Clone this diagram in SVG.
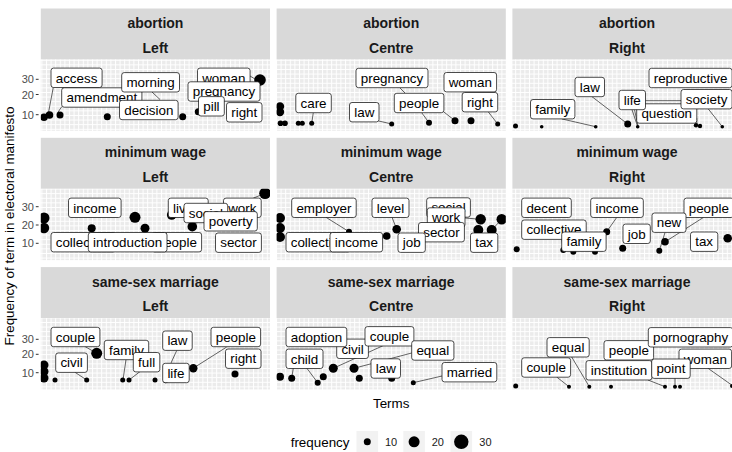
<svg xmlns="http://www.w3.org/2000/svg" width="732" height="452" viewBox="0 0 732 452">
<style>
.strip{fill:#D9D9D9}
.st{font-family:"Liberation Sans",Arial,sans-serif;font-size:14px;font-weight:bold;fill:#1A1A1A;text-anchor:middle}
.bg{fill:url(#grid)}
.pt{fill:#000}
.seg{stroke:#000;stroke-width:0.6;fill:none}
.lb rect{fill:#fff;stroke:#000;stroke-width:0.7}
.lb text{font-family:"Liberation Sans",Arial,sans-serif;font-size:13.4px;fill:#000;text-anchor:middle}
.tk{font-family:"Liberation Sans",Arial,sans-serif;font-size:11px;fill:#4D4D4D;text-anchor:end}
.tm{stroke:#333;stroke-width:1}
.ax{font-family:"Liberation Sans",Arial,sans-serif;font-size:13.4px;fill:#000}
.key{fill:#F2F2F2}
.lt{font-family:"Liberation Sans",Arial,sans-serif;font-size:11px;fill:#1A1A1A}
</style>
<defs>
<pattern id="grid" width="4.6" height="4.6" patternUnits="userSpaceOnUse">
<rect width="4.6" height="4.6" fill="#EBEBEB"/>
<path d="M0 0.5H4.6M0.5 0V4.6" stroke="#fff" stroke-width="1"/>
</pattern>
<clipPath id="c11"><rect x="40.8" y="59.5" width="229.2" height="71.3"/></clipPath>
<clipPath id="c12"><rect x="276.6" y="59.5" width="229.2" height="71.3"/></clipPath>
<clipPath id="c13"><rect x="512.4" y="59.5" width="229.2" height="71.3"/></clipPath>
<clipPath id="c21"><rect x="40.8" y="188.8" width="229.2" height="71.3"/></clipPath>
<clipPath id="c22"><rect x="276.6" y="188.8" width="229.2" height="71.3"/></clipPath>
<clipPath id="c23"><rect x="512.4" y="188.8" width="229.2" height="71.3"/></clipPath>
<clipPath id="c31"><rect x="40.8" y="318.1" width="229.2" height="71.3"/></clipPath>
<clipPath id="c32"><rect x="276.6" y="318.1" width="229.2" height="71.3"/></clipPath>
<clipPath id="c33"><rect x="512.4" y="318.1" width="229.2" height="71.3"/></clipPath>
</defs>
<rect width="732" height="452" fill="#fff"/>

<!-- strips -->
<g id="strips">
<rect class="strip" x="40.8" y="8.5" width="229.2" height="51"/>
<rect class="strip" x="276.6" y="8.5" width="229.2" height="51"/>
<rect class="strip" x="512.4" y="8.5" width="229.2" height="51"/>
<rect class="strip" x="40.8" y="137.8" width="229.2" height="51"/>
<rect class="strip" x="276.6" y="137.8" width="229.2" height="51"/>
<rect class="strip" x="512.4" y="137.8" width="229.2" height="51"/>
<rect class="strip" x="40.8" y="267.1" width="229.2" height="51"/>
<rect class="strip" x="276.6" y="267.1" width="229.2" height="51"/>
<rect class="strip" x="512.4" y="267.1" width="229.2" height="51"/>
<text class="st" x="155.4" y="28">abortion</text><text class="st" x="155.4" y="52.5">Left</text>
<text class="st" x="391.2" y="28">abortion</text><text class="st" x="391.2" y="52.5">Centre</text>
<text class="st" x="627" y="28">abortion</text><text class="st" x="627" y="52.5">Right</text>
<text class="st" x="155.4" y="157.3">minimum wage</text><text class="st" x="155.4" y="181.8">Left</text>
<text class="st" x="391.2" y="157.3">minimum wage</text><text class="st" x="391.2" y="181.8">Centre</text>
<text class="st" x="627" y="157.3">minimum wage</text><text class="st" x="627" y="181.8">Right</text>
<text class="st" x="155.4" y="286.6">same-sex marriage</text><text class="st" x="155.4" y="311.1">Left</text>
<text class="st" x="391.2" y="286.6">same-sex marriage</text><text class="st" x="391.2" y="311.1">Centre</text>
<text class="st" x="627" y="286.6">same-sex marriage</text><text class="st" x="627" y="311.1">Right</text>
</g>

<!-- panel backgrounds -->
<g id="panels">
<rect class="bg" x="40.8" y="59.5" width="229.2" height="71.3"/>
<rect class="bg" x="276.6" y="59.5" width="229.2" height="71.3"/>
<rect class="bg" x="512.4" y="59.5" width="229.2" height="71.3"/>
<rect class="bg" x="40.8" y="188.8" width="229.2" height="71.3"/>
<rect class="bg" x="276.6" y="188.8" width="229.2" height="71.3"/>
<rect class="bg" x="512.4" y="188.8" width="229.2" height="71.3"/>
<rect class="bg" x="40.8" y="318.1" width="229.2" height="71.3"/>
<rect class="bg" x="276.6" y="318.1" width="229.2" height="71.3"/>
<rect class="bg" x="512.4" y="318.1" width="229.2" height="71.3"/>
</g>

<!-- y axes -->
<g id="yaxis">
<text class="tk" x="34" y="83.3">30</text><line class="tm" x1="35.8" y1="79.3" x2="38.6" y2="79.3"/>
<text class="tk" x="34" y="98.5">20</text><line class="tm" x1="35.8" y1="94.5" x2="38.6" y2="94.5"/>
<text class="tk" x="34" y="118.7">10</text><line class="tm" x1="35.8" y1="114.7" x2="38.6" y2="114.7"/>
<text class="tk" x="34" y="210.7">30</text><line class="tm" x1="35.8" y1="206.7" x2="38.6" y2="206.7"/>
<text class="tk" x="34" y="229">20</text><line class="tm" x1="35.8" y1="225" x2="38.6" y2="225"/>
<text class="tk" x="34" y="247.3">10</text><line class="tm" x1="35.8" y1="243.3" x2="38.6" y2="243.3"/>
<text class="tk" x="34" y="343.3">30</text><line class="tm" x1="35.8" y1="339.3" x2="38.6" y2="339.3"/>
<text class="tk" x="34" y="358.3">20</text><line class="tm" x1="35.8" y1="354.3" x2="38.6" y2="354.3"/>
<text class="tk" x="34" y="376.7">10</text><line class="tm" x1="35.8" y1="372.7" x2="38.6" y2="372.7"/>
</g>

<!-- Panel 1: abortion Left -->
<g id="p-abortion-left" clip-path="url(#c11)">
<g class="pts">
<circle class="pt" cx="44" cy="117.3" r="3.8"/><circle class="pt" cx="49.5" cy="115" r="3.8"/>
<circle class="pt" cx="60" cy="115" r="3.5"/><circle class="pt" cx="107.3" cy="116.7" r="3.5"/>
<circle class="pt" cx="182.7" cy="116.7" r="3.5"/><circle class="pt" cx="198.3" cy="111.7" r="3.5"/>
<circle class="pt" cx="235" cy="120" r="2"/><circle class="pt" cx="260" cy="80" r="5.8"/>
</g>
<g id="p1-connectors">
<path class="seg" d="M53.3 87.3L48.5 112.5M61.7 106.7L57.5 113M152 92L160 99.5M250 76L255 79"/>
</g>
<g id="p1-access" class="lb"><rect x="51" y="68.1" width="51.1" height="19.4" rx="2.5"/><text x="76.55" y="82.5">access</text></g>
<g id="p1-amendment" class="lb"><rect x="61.7" y="87.8" width="80.2" height="19.4" rx="2.5"/><text x="101.8" y="102.2">amendment</text></g>
<g id="p1-morning" class="lb"><rect x="121.7" y="72.6" width="57.8" height="19.4" rx="2.5"/><text x="150.6" y="87">morning</text></g>
<g id="p1-decision" class="lb"><rect x="119.5" y="100.3" width="58.6" height="19.4" rx="2.5"/><text x="148.8" y="114.7">decision</text></g>
<g id="p1-woman" class="lb"><rect x="197.5" y="68.1" width="52.6" height="19.4" rx="2.5"/><text x="223.8" y="82.5">woman</text></g>
<g id="p1-pregnancy" class="lb"><rect x="188" y="81.8" width="72" height="19.4" rx="2.5"/><text x="224" y="96.2">pregnancy</text></g>
<g id="p1-pill" class="lb"><rect x="198.5" y="96.6" width="25.8" height="19.4" rx="2.5"/><text x="211.4" y="111">pill</text></g>
<g id="p1-right" class="lb"><rect x="226.5" y="102.6" width="35.5" height="19.4" rx="2.5"/><text x="244.25" y="117">right</text></g>
</g>

<!-- Panel 2: abortion Centre -->
<g id="p-abortion-centre" clip-path="url(#c12)">
<g class="pts">
<circle class="pt" cx="280" cy="106.5" r="4.2"/><circle class="pt" cx="280" cy="112" r="4.2"/>
<circle class="pt" cx="280.5" cy="123.3" r="2.8"/><circle class="pt" cx="285" cy="123.3" r="2.8"/>
<circle class="pt" cx="298.3" cy="123.3" r="2.5"/><circle class="pt" cx="302.3" cy="123.3" r="2.5"/>
<circle class="pt" cx="311.7" cy="123.3" r="2.5"/><circle class="pt" cx="391.7" cy="124" r="2.5"/>
<circle class="pt" cx="429" cy="122.7" r="3"/><circle class="pt" cx="455" cy="120.7" r="3.5"/>
<circle class="pt" cx="471" cy="120.7" r="3.5"/><circle class="pt" cx="497.7" cy="124" r="2.5"/>
</g>
<g id="p2-connectors">
<path class="seg" d="M313.3 112.7L311.7 123.3M378.8 121L391.7 124M421.7 112.7L429 122.7M443.9 112L455 120.7M488.3 111.9L497.7 124M400 88L405 93"/>
</g>
<g id="p2-pregnancy" class="lb"><rect x="356" y="68.3" width="72" height="19.4" rx="2.5"/><text x="392" y="82.7">pregnancy</text></g>
<g id="p2-woman" class="lb"><rect x="444" y="72.5" width="52.6" height="19.4" rx="2.5"/><text x="470.3" y="86.9">woman</text></g>
<g id="p2-care" class="lb"><rect x="295.8" y="93.3" width="35.5" height="19.4" rx="2.5"/><text x="313.55" y="107.7">care</text></g>
<g id="p2-law" class="lb"><rect x="349.5" y="102.5" width="29.5" height="19.4" rx="2.5"/><text x="364.25" y="116.9">law</text></g>
<g id="p2-people" class="lb"><rect x="394.3" y="93.3" width="49.6" height="19.4" rx="2.5"/><text x="419.1" y="107.7">people</text></g>
<g id="p2-right" class="lb"><rect x="462.2" y="92.5" width="35.5" height="19.4" rx="2.5"/><text x="479.95" y="106.9">right</text></g>
</g>

<!-- Panel 3: abortion Right -->
<g id="p-abortion-right" clip-path="url(#c13)">
<g class="pts">
<circle class="pt" cx="515.5" cy="126" r="2.5"/><circle class="pt" cx="541.7" cy="126.7" r="1.8"/>
<circle class="pt" cx="595.7" cy="126.7" r="1.8"/><circle class="pt" cx="627.7" cy="124" r="3.5"/>
<circle class="pt" cx="637.7" cy="126.7" r="1.8"/><circle class="pt" cx="696" cy="125.3" r="2.2"/>
<circle class="pt" cx="700" cy="126" r="2.2"/><circle class="pt" cx="722.3" cy="126.7" r="1.8"/>
</g>
<g id="p3-connectors">
<path class="seg" d="M561.7 118.9L595.7 126.7M592 96.7L627.7 124M632 109.7L637.7 126.7M634.5 109.7L638 126M696.7 118L697 125M708 108.6L722.3 126.7M645.5 100.7H681"/>
</g>
<g id="p3-question" class="lb"><rect x="636.7" y="103.8" width="60.1" height="19.4" rx="2.5"/><text x="666.75" y="118.2">question</text></g>
<g id="p3-family" class="lb"><rect x="530.5" y="99.5" width="44.4" height="19.4" rx="2.5"/><text x="552.7" y="113.9">family</text></g>
<g id="p3-law" class="lb"><rect x="575" y="77.3" width="29.5" height="19.4" rx="2.5"/><text x="589.75" y="91.7">law</text></g>
<g id="p3-life" class="lb"><rect x="619" y="90.3" width="26.5" height="19.4" rx="2.5"/><text x="632.25" y="104.7">life</text></g>
<g id="p3-society" class="lb"><rect x="681" y="89.5" width="51.1" height="19.4" rx="2.5"/><text x="706.55" y="103.9">society</text></g>
<g id="p3-reproductive" class="lb"><rect x="649" y="68.3" width="83.1" height="19.4" rx="2.5"/><text x="690.55" y="82.7">reproductive</text></g>
</g>

<!-- Panel 4: minimum wage Left -->
<g id="p-minwage-left" clip-path="url(#c21)">
<g class="pts">
<circle class="pt" cx="44" cy="218" r="5.5"/><circle class="pt" cx="44" cy="228" r="5.2"/>
<circle class="pt" cx="91.7" cy="228.3" r="4"/><circle class="pt" cx="135" cy="217.3" r="5.5"/>
<circle class="pt" cx="145" cy="228.3" r="4.5"/><circle class="pt" cx="171.7" cy="215" r="4.8"/>
<circle class="pt" cx="192.3" cy="226.7" r="4.8"/><circle class="pt" cx="265" cy="193.3" r="5.8"/>
</g>
<g id="p4-connectors">
<path class="seg" d="M253 198.3L265 193.3"/>
</g>
<g id="p4-income" class="lb"><rect x="68.5" y="198.1" width="52.6" height="19.4" rx="2.5"/><text x="94.8" y="212.5">income</text></g>
<g id="p4-living" class="lb"><rect x="168.3" y="198.1" width="39.9" height="19.4" rx="2.5"/><text x="188.25" y="212.5">living</text></g>
<g id="p4-work" class="lb"><rect x="223.5" y="198.1" width="37.7" height="19.4" rx="2.5"/><text x="242.35" y="212.5">work</text></g>
<g id="p4-social" class="lb"><rect x="184" y="203.3" width="43.7" height="19.4" rx="2.5"/><text x="205.85" y="217.7">social</text></g>
<g id="p4-poverty" class="lb"><rect x="204" y="211.6" width="53.3" height="19.4" rx="2.5"/><text x="230.65" y="226">poverty</text></g>
<g id="p4-collective" class="lb"><rect x="51" y="232.5" width="64.5" height="19.4" rx="2.5"/><text x="83.25" y="246.9">collective</text></g>
<g id="p4-people" class="lb"><rect x="152" y="232.5" width="49.6" height="19.4" rx="2.5"/><text x="176.8" y="246.9">people</text></g>
<g id="p4-introduction" class="lb"><rect x="88.3" y="232.5" width="78.7" height="19.4" rx="2.5"/><text x="127.65" y="246.9">introduction</text></g>
<g id="p4-sector" class="lb"><rect x="215.5" y="233" width="45.9" height="19.4" rx="2.5"/><text x="238.45" y="247.4">sector</text></g>
</g>

<!-- Panel 5: minimum wage Centre -->
<g id="p-minwage-centre" clip-path="url(#c22)">
<g class="pts">
<circle class="pt" cx="280" cy="218" r="5"/><circle class="pt" cx="280" cy="228" r="5"/><circle class="pt" cx="280" cy="237" r="5"/>
<circle class="pt" cx="349" cy="231.7" r="3"/><circle class="pt" cx="386.7" cy="236" r="3.8"/>
<circle class="pt" cx="396.7" cy="229.3" r="4.3"/><circle class="pt" cx="480.7" cy="219.3" r="5.2"/>
<circle class="pt" cx="501.7" cy="219.3" r="5.2"/><circle class="pt" cx="478.3" cy="230" r="5"/>
<circle class="pt" cx="491.7" cy="230" r="5"/>
</g>
<g id="p5-connectors">
<path class="seg" d="M326 217.3L349 231.7M392 217.3L396.7 229.3M465 218L480.7 219.3M491.7 230L501.7 219.3"/>
</g>
<g id="p5-employer" class="lb"><rect x="291.7" y="198.1" width="64.5" height="19.4" rx="2.5"/><text x="323.95" y="212.5">employer</text></g>
<g id="p5-level" class="lb"><rect x="372" y="198.1" width="37" height="19.4" rx="2.5"/><text x="390.5" y="212.5">level</text></g>
<g id="p5-social" class="lb"><rect x="426.7" y="197.8" width="43.7" height="19.4" rx="2.5"/><text x="448.55" y="212.2">social</text></g>
<g id="p5-work" class="lb"><rect x="427.3" y="207.8" width="37.7" height="19.4" rx="2.5"/><text x="446.15" y="222.2">work</text></g>
<g id="p5-sector" class="lb"><rect x="418.5" y="222.5" width="45.9" height="19.4" rx="2.5"/><text x="441.45" y="236.9">sector</text></g>
<g id="p5-collective" class="lb"><rect x="286" y="232.5" width="64.5" height="19.4" rx="2.5"/><text x="318.25" y="246.9">collective</text></g>
<g id="p5-income" class="lb"><rect x="330" y="232.5" width="52.6" height="19.4" rx="2.5"/><text x="356.3" y="246.9">income</text></g>
<g id="p5-job" class="lb"><rect x="398" y="233" width="27.3" height="19.4" rx="2.5"/><text x="411.65" y="247.4">job</text></g>
<g id="p5-tax" class="lb"><rect x="470.5" y="233" width="27.3" height="19.4" rx="2.5"/><text x="484.15" y="247.4">tax</text></g>
</g>

<!-- Panel 6: minimum wage Right -->
<g id="p-minwage-right" clip-path="url(#c23)">
<g class="pts">
<circle class="pt" cx="516.7" cy="249.3" r="3"/><circle class="pt" cx="563.3" cy="250" r="3"/>
<circle class="pt" cx="573.3" cy="251.7" r="3"/><circle class="pt" cx="595" cy="251.7" r="3"/>
<circle class="pt" cx="606.7" cy="231.7" r="3.5"/><circle class="pt" cx="622.7" cy="248.3" r="3.5"/>
<circle class="pt" cx="659.3" cy="250.7" r="3"/><circle class="pt" cx="665" cy="241.7" r="3.8"/>
<circle class="pt" cx="727.7" cy="238.3" r="4.3"/>
</g>
<g id="p6-connectors">
<path class="seg" d="M616.7 217.5L606.7 231.7M703.3 217.5L668 240M665 232.5L659.3 250.7M561.7 239L563.3 250M573.3 251.7L575 251"/>
</g>
<g id="p6-decent" class="lb"><rect x="521.7" y="198.1" width="49.6" height="19.4" rx="2.5"/><text x="546.5" y="212.5">decent</text></g>
<g id="p6-income" class="lb"><rect x="590.7" y="198.1" width="52.6" height="19.4" rx="2.5"/><text x="617" y="212.5">income</text></g>
<g id="p6-people" class="lb"><rect x="684" y="198.1" width="49.6" height="19.4" rx="2.5"/><text x="708.8" y="212.5">people</text></g>
<g id="p6-collective" class="lb"><rect x="521.7" y="220" width="64.5" height="19.4" rx="2.5"/><text x="553.95" y="234.4">collective</text></g>
<g id="p6-family" class="lb"><rect x="561.7" y="232" width="44.4" height="19.4" rx="2.5"/><text x="583.9" y="246.4">family</text></g>
<g id="p6-job" class="lb"><rect x="623" y="224.1" width="27.3" height="19.4" rx="2.5"/><text x="636.65" y="238.5">job</text></g>
<g id="p6-new" class="lb"><rect x="652" y="213" width="34" height="19.4" rx="2.5"/><text x="669" y="227.4">new</text></g>
<g id="p6-tax" class="lb"><rect x="690.5" y="232" width="27.3" height="19.4" rx="2.5"/><text x="704.15" y="246.4">tax</text></g>
</g>

<!-- Panel 7: same-sex marriage Left -->
<g id="p-ssm-left" clip-path="url(#c31)">
<g class="pts">
<circle class="pt" cx="44" cy="365" r="4.5"/><circle class="pt" cx="44" cy="371.5" r="4.5"/><circle class="pt" cx="44" cy="378" r="4.5"/>
<circle class="pt" cx="55" cy="380" r="2.5"/><circle class="pt" cx="86.7" cy="380" r="2.5"/>
<circle class="pt" cx="96.7" cy="353.3" r="5.5"/><circle class="pt" cx="122.7" cy="380" r="2.5"/>
<circle class="pt" cx="129" cy="380" r="2.5"/><circle class="pt" cx="155" cy="380" r="2.5"/>
<circle class="pt" cx="165.7" cy="380.7" r="2.5"/><circle class="pt" cx="193.3" cy="368.3" r="4.2"/>
<circle class="pt" cx="235" cy="374" r="3.5"/>
</g>
<g id="p7-connectors">
<path class="seg" d="M75 372.3L86.7 380M85 346.5L96.7 353.3M126 359.5L123 380M140 371.6L129 380M176.7 350.5L171 363M226.7 347L196.7 366"/>
</g>
<g id="p7-couple" class="lb"><rect x="51" y="327.3" width="48.9" height="19.4" rx="2.5"/><text x="75.45" y="341.7">couple</text></g>
<g id="p7-civil" class="lb"><rect x="55.7" y="353" width="31.7" height="19.4" rx="2.5"/><text x="71.55" y="367.4">civil</text></g>
<g id="p7-family" class="lb"><rect x="104.3" y="340.3" width="44.4" height="19.4" rx="2.5"/><text x="126.5" y="354.7">family</text></g>
<g id="p7-full" class="lb"><rect x="133.3" y="352.5" width="26.5" height="19.4" rx="2.5"/><text x="146.55" y="366.9">full</text></g>
<g id="p7-law" class="lb"><rect x="162.7" y="331" width="29.5" height="19.4" rx="2.5"/><text x="177.45" y="345.4">law</text></g>
<g id="p7-life" class="lb"><rect x="162.7" y="363.3" width="26.5" height="19.4" rx="2.5"/><text x="175.95" y="377.7">life</text></g>
<g id="p7-people" class="lb"><rect x="211" y="327.3" width="49.6" height="19.4" rx="2.5"/><text x="235.8" y="341.7">people</text></g>
<g id="p7-right" class="lb"><rect x="225.5" y="349" width="35.5" height="19.4" rx="2.5"/><text x="243.25" y="363.4">right</text></g>
</g>

<!-- Panel 8: same-sex marriage Centre -->
<g id="p-ssm-centre" clip-path="url(#c32)">
<g class="pts">
<circle class="pt" cx="280" cy="376.7" r="4"/><circle class="pt" cx="291.7" cy="378.3" r="3.5"/>
<circle class="pt" cx="317.7" cy="382.7" r="3"/><circle class="pt" cx="323.3" cy="376.7" r="3.5"/>
<circle class="pt" cx="333.3" cy="368.3" r="4.5"/><circle class="pt" cx="354" cy="368.3" r="4.5"/>
<circle class="pt" cx="359.3" cy="378.3" r="3.5"/><circle class="pt" cx="391.7" cy="378.3" r="3.5"/>
<circle class="pt" cx="413.3" cy="382.7" r="2.5"/>
</g>
<g id="p8-connectors">
<path class="seg" d="M293.3 368L291.7 378.3M306.7 368L317.7 382.7M383 345.7L333.3 368.3M411.7 353L354 368.3M442 376L413.3 382.7"/>
</g>
<g id="p8-civil" class="lb"><rect x="336.7" y="339.1" width="31.7" height="19.4" rx="2.5"/><text x="352.55" y="353.5">civil</text></g>
<g id="p8-adoption" class="lb"><rect x="286" y="327.3" width="60.8" height="19.4" rx="2.5"/><text x="316.4" y="341.7">adoption</text></g>
<g id="p8-couple" class="lb"><rect x="365" y="326.6" width="48.9" height="19.4" rx="2.5"/><text x="389.45" y="341">couple</text></g>
<g id="p8-equal" class="lb"><rect x="411.7" y="340.8" width="42.2" height="19.4" rx="2.5"/><text x="432.8" y="355.2">equal</text></g>
<g id="p8-child" class="lb"><rect x="286" y="349.1" width="37" height="19.4" rx="2.5"/><text x="304.5" y="363.5">child</text></g>
<g id="p8-law" class="lb"><rect x="371" y="358.8" width="29.5" height="19.4" rx="2.5"/><text x="385.75" y="373.2">law</text></g>
<g id="p8-married" class="lb"><rect x="442" y="362.5" width="54.8" height="19.4" rx="2.5"/><text x="469.4" y="376.9">married</text></g>
</g>

<!-- Panel 9: same-sex marriage Right -->
<g id="p-ssm-right" clip-path="url(#c33)">
<g class="pts">
<circle class="pt" cx="515.7" cy="386" r="2.5"/><circle class="pt" cx="569" cy="386.7" r="2"/>
<circle class="pt" cx="589.3" cy="386.7" r="2"/><circle class="pt" cx="611" cy="386.7" r="2"/>
<circle class="pt" cx="665" cy="386.7" r="2"/><circle class="pt" cx="675" cy="386.7" r="2"/>
<circle class="pt" cx="680" cy="386.7" r="2"/><circle class="pt" cx="732" cy="386" r="2"/>
</g>
<g id="p9-connectors">
<path class="seg" d="M556.7 377L569 386.7M571.7 357L589.3 386.7M648 380L665 386.7M675 378L675 386.7M708 368.3L731.7 385"/>
</g>
<g id="p9-woman" class="lb"><rect x="679" y="349.1" width="52.6" height="19.4" rx="2.5"/><text x="705.3" y="363.5">woman</text></g>
<g id="p9-people" class="lb"><rect x="604" y="340.6" width="49.6" height="19.4" rx="2.5"/><text x="628.85" y="355">people</text></g>
<g id="p9-equal" class="lb"><rect x="547" y="337.6" width="42.2" height="19.4" rx="2.5"/><text x="568.1" y="352">equal</text></g>
<g id="p9-couple" class="lb"><rect x="521.7" y="357.8" width="48.9" height="19.4" rx="2.5"/><text x="546.15" y="372.2">couple</text></g>
<g id="p9-institution" class="lb"><rect x="586" y="360.6" width="66" height="19.4" rx="2.5"/><text x="619" y="375">institution</text></g>
<g id="p9-point" class="lb"><rect x="651.7" y="359" width="38.5" height="19.4" rx="2.5"/><text x="670.95" y="373.4">point</text></g>
<g id="p9-pornography" class="lb"><rect x="648.3" y="327.6" width="84.6" height="19.4" rx="2.5"/><text x="690.6" y="342">pornography</text></g>
</g>

<!-- axis titles -->
<text class="ax" x="391.2" y="408" text-anchor="middle">Terms</text>
<text class="ax" transform="translate(14 226) rotate(-90)" text-anchor="middle">Frequency of term in electoral manifesto</text>

<!-- legend -->
<g id="legend">
<text class="ax" x="290.7" y="446.5">frequency</text>
<rect class="key" x="356.5" y="431" width="21.6" height="21.6"/>
<rect class="key" x="403.3" y="431" width="21.6" height="21.6"/>
<rect class="key" x="450.5" y="431" width="21.6" height="21.6"/>
<circle class="pt" cx="367.3" cy="441.8" r="3.5"/>
<circle class="pt" cx="414.1" cy="441.8" r="5.5"/>
<circle class="pt" cx="461.3" cy="441.8" r="7.2"/>
<text class="lt" x="385" y="446">10</text>
<text class="lt" x="431.7" y="446">20</text>
<text class="lt" x="479.3" y="446">30</text>
</g>
</svg>
